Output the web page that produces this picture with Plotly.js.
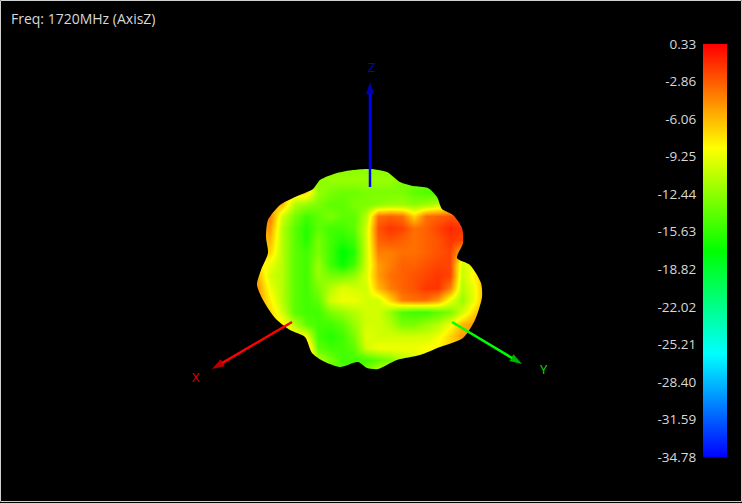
<!DOCTYPE html>
<html><head><meta charset="utf-8">
<script src="https://cdn.plot.ly/plotly-3.0.1.min.js"></script>
<style>html,body{margin:0;padding:0;background:#000;overflow:hidden}</style>
</head><body><div id="chart" style="width:742px;height:503px"></div>
<script>
const titleText = "Freq: 1720MHz (AxisZ)";
const tickValues = [0.33,-2.86,-6.06,-9.25,-12.44,-15.63,-18.82,-22.02,-25.21,-28.40,-31.59,-34.78];
const tickLabels = ["0.33","-2.86","-6.06","-9.25","-12.44","-15.63","-18.82","-22.02","-25.21","-28.40","-31.59","-34.78"];
const jet = [[0,"#0000ff"],[0.25,"#00ffff"],[0.5,"#00ff00"],[0.75,"#ffff00"],[1,"#ff0000"]];
const gridX = [258,270,282,294,306,318,330,342,354,366,378,390,402,414,426,438,450,462,474,486];
const gridY = [168,180,192,204,216,228,240,252,264,276,288,300,312,324,336,348,360,372];
const gainDb = [
[-12.5,-12.5,-12.5,-12.5,-12.5,-12.5,-12.5,-12.5,-12.5,-12.5,-12.5,-12.5,-12.5,-12.5,-12.5,-12.5,-12.5,-12.5,-12.5,-12.5],
[-12.5,-12.5,-12.5,-12.5,-12.5,-12.5,-12,-12,-12,-12,-12,-12,-13,-13,-13,-13,-13,-13,-13,-13],
[-7,-7,-7,-7,-7,-12,-13,-13.5,-13.5,-13,-13,-13,-13,-14,-14.5,-14.5,-13,-13,-13,-13],
[-6,-6,-6,-11,-12,-13,-14,-14,-13,-13,-12.5,-12,-12,-12.5,-12,-11,-10,-10,-10,-10],
[-4,-4,-10,-13,-15,-14,-13,-14,-14,-11,-3.5,-3,-3.5,-7,-3.5,-3,-2.5,-3,-3,-3],
[-5,-5,-11,-14,-16,-14,-15,-15,-14,-10,-2.5,-1.5,-2,-3.5,-3,-2,-1,-1.5,-2,-2],
[-6,-6,-11,-14,-16,-13,-15,-16,-15,-10,-3,-2.5,-3,-3.5,-3,-2.5,-1.5,-2,-2,-2],
[-7,-7,-11,-14,-15,-13,-15,-17.5,-16,-10,-4,-4,-3.5,-3.5,-3,-2.5,-2,-6,-8,-8],
[-8,-9,-11,-14,-15,-12,-15,-17,-15,-10,-5,-4,-3,-3,-2.5,-2,-2,-10,-9,-9],
[-6,-10,-11,-14,-15,-12,-13,-13,-12,-9.5,-5,-3.5,-3,-2.5,-2,-1.5,-2,-10.5,-8,-6],
[-5,-9,-11,-14,-15,-13,-11,-9.5,-10,-10,-6,-4,-3,-2.5,-1.5,-1.5,-4,-11,-9,-5],
[-5,-8,-11,-14,-15,-14,-10,-9,-9,-10,-10,-7,-4,-3.5,-3.5,-5,-9,-12,-9,-5],
[-7,-7,-10,-14,-15,-15,-13,-12,-11,-10,-10,-12,-14.5,-15,-15,-14,-13,-10,-7,-5],
[-7,-7,-8,-11,-14,-15,-15,-14,-12,-10,-10,-11,-13,-13,-12,-11,-9,-6,-5,-5],
[-8,-8,-8,-8,-9,-15,-16,-15,-13,-9.5,-10,-10,-10,-10,-10,-9,-7,-5,-5,-5],
[-6,-6,-6,-6,-5,-14,-15,-15,-14,-10,-9,-9,-9,-9,-8.5,-8,-7,-7,-7,-7],
[-6,-6,-6,-6,-6,-11,-13,-15,-15,-15,-14,-13,-11,-10,-9,-9,-9,-9,-9,-9],
[-14,-14,-14,-14,-14,-14,-14,-14,-14,-13,-10,-10,-10,-10,-10,-10,-10,-10,-10,-10]];
const outlineX = [370,387,400,413,428,437,442,453,462,463,457,470,481,482,475,463,440,420,397,378,367,358,340,323,312,305,290,275,263,257,261,268,266,268,280,295,313,320,337,353,370];
const outlineY = [169,172,182,186,188,197,209,215,228,243,258,265,283,297,320,338,347,355,360,369,368,362,367,361,353,337,330,318,300,285,270,253,237,220,205,197,189,180,173,170,169];
const maskX = [100,100,640,640,100];
const maskY = [40,470,470,40,40];
const axisX = {x:[292,212], y:[322,369], color:"#ff0000", label:"X", lx:196, ly:377, lc:"#e00000"};
const axisY = {x:[452,522], y:[322,364], color:"#00ff00", label:"Y", lx:544, ly:369, lc:"#00e000"};
const axisZ = {x:[370,370], y:[187,82], color:"#0000ff", label:"Z", lx:371, ly:67, lc:"#0000e0"};

const arrow = a => ({type:"scatter",mode:"lines+markers",x:a.x,y:a.y,xaxis:"x",yaxis:"y",hoverinfo:"skip",
  line:{color:a.color,width:2.5},
  marker:{symbol:"arrow",angleref:"previous",size:[0,13],color:a.color,line:{width:0}}});
const traces = [
 {type:"heatmap",x:gridX,y:gridY,z:gainDb,zmin:-34.78,zmax:0.33,zsmooth:"best",colorscale:jet,showscale:false,xaxis:"x",yaxis:"y"},
 {type:"scatter",mode:"lines",x:maskX.concat([null],outlineX),y:maskY.concat([null],outlineY),fill:"toself",fillcolor:"#000",line:{width:0,color:"#000",shape:"spline",smoothing:0.7},xaxis:"x",yaxis:"y",hoverinfo:"skip"},
 arrow(axisX),arrow(axisY),arrow(axisZ),
 {type:"heatmap",x:[0,1],y:tickValues,z:tickValues.map(v=>[v,v]),zmin:-34.78,zmax:0.33,zsmooth:"best",colorscale:jet,showscale:false,xaxis:"x2",yaxis:"y2"}
];
const label = a => ({text:a.label,x:a.lx,y:a.ly,xref:"x",yref:"y",showarrow:false,font:{family:"Open Sans",size:13,color:a.lc}});
const layout = {
 width:742,height:503,margin:{l:0,r:0,t:0,b:0},paper_bgcolor:"#000",plot_bgcolor:"#000",showlegend:false,
 xaxis:{domain:[0,1],range:[0,742],visible:false,fixedrange:true},
 yaxis:{domain:[0,1],range:[503,0],visible:false,fixedrange:true},
 xaxis2:{domain:[703/742,727.5/742],range:[0,1],visible:false,anchor:"y2"},
 yaxis2:{domain:[(503-457)/503,(503-44)/503],range:[-34.78,0.33],anchor:"x2",side:"left",tickmode:"array",tickvals:tickValues,ticktext:tickLabels,ticks:"outside",ticklen:3,tickcolor:"rgba(0,0,0,0)",showgrid:false,zeroline:false,showline:false,tickfont:{family:"Open Sans",size:13.5,color:"#d8d8d8"}},
 annotations:[
  {text:titleText,x:9,y:18,xref:"x",yref:"y",xanchor:"left",showarrow:false,font:{family:"Open Sans",size:14,color:"#d8d8d8"}},
  label(axisX),label(axisY),label(axisZ)],
 shapes:[{type:"rect",xref:"x",yref:"y",x0:0.5,y0:0.5,x1:741.5,y1:501.5,line:{color:"#d0d0d0",width:1},fillcolor:"rgba(0,0,0,0)",layer:"above"}]
};
Plotly.newPlot("chart",traces,layout,{displayModeBar:false,staticPlot:true});
</script></body></html>
